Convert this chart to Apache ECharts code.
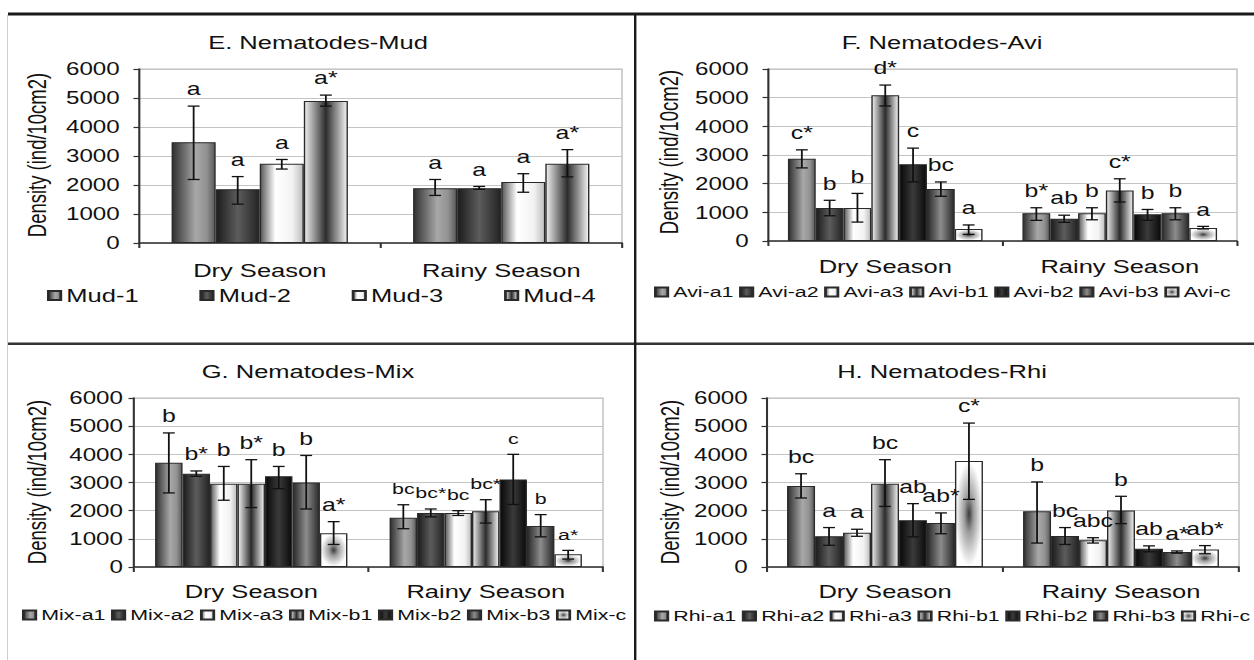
<!DOCTYPE html>
<html><head><meta charset="utf-8">
<script src="https://cdn.jsdelivr.net/npm/echarts@6/dist/echarts.min.js"></script>
<style>
html,body{margin:0;padding:0;background:#fff;overflow:hidden;}
#wrap{width:1254px;height:660px;overflow:hidden;position:relative;background:#fff;}
#chart{position:absolute;left:0;top:0;width:909px;height:660px;transform:scaleX(1.379538);transform-origin:0 0;}
</style></head><body><div id="wrap"><div id="chart"></div></div>
<script>
// ---------------- DATA ----------------
const categories = ['Dry Season', 'Rainy Season'];

const mudNames = ['Mud-1', 'Mud-2', 'Mud-3', 'Mud-4'];
const mudMean = [[3470, 1890], [1850, 1890], [2730, 2100], [4900, 2730]];
const mudLow  = [[2190, 1640], [1340, 1850], [2550, 1750], [4720, 2280]];
const mudHigh = [[4720, 2190], [2290, 1950], [2880, 2390], [5100, 3220]];
const mudLetters = [['a', 'a'], ['a', 'a'], ['a', 'a'], ['a*', 'a*']];

const aviNames = ['Avi-a1', 'Avi-a2', 'Avi-a3', 'Avi-b1', 'Avi-b2', 'Avi-b3', 'Avi-c'];
const aviMean = [[2870, 970], [1150, 780], [1150, 970], [5080, 1760], [2680, 930], [1810, 970], [420, 450]];
const aviLow  = [[2550, 720], [880, 650], [660, 740], [4710, 1360], [2060, 720], [1560, 740], [230, 420]];
const aviHigh = [[3180, 1160], [1420, 900], [1660, 1160], [5440, 2170], [3240, 1100], [2060, 1160], [560, 510]];
const aviLetters = [['c*', 'b*'], ['b', 'ab'], ['b', 'b'], ['d*', 'c*'], ['c', 'b'], ['bc', 'b'], ['a', 'a']];

const mixNames = ['Mix-a1', 'Mix-a2', 'Mix-a3', 'Mix-b1', 'Mix-b2', 'Mix-b3', 'Mix-c'];
const mixMean = [[3700, 1750], [3310, 1920], [2960, 1920], [2960, 1980], [3220, 3110], [3000, 1460], [1200, 450]];
const mixLow  = [[2630, 1360], [3220, 1780], [2370, 1830], [2110, 1560], [2780, 2220], [2060, 1070], [800, 280]];
const mixHigh = [[4760, 2210], [3410, 2060], [3570, 2000], [3810, 2390], [3570, 4000], [3960, 1860], [1610, 590]];
const mixLetters = [['b', 'bc'], ['b*', 'bc*'], ['b', 'bc'], ['b*', 'bc*'], ['b', 'c'], ['b', 'b'], ['a*', 'a*']];

const rhiNames = ['Rhi-a1', 'Rhi-a2', 'Rhi-a3', 'Rhi-b1', 'Rhi-b2', 'Rhi-b3', 'Rhi-c'];
const rhiMean = [[2880, 1980], [1090, 1100], [1220, 950], [2960, 2010], [1660, 650], [1560, 530], [3760, 620]];
const rhiLow  = [[2450, 850], [770, 800], [1090, 850], [2150, 1540], [1070, 540], [1180, 490], [2400, 470]];
const rhiHigh = [[3310, 3020], [1400, 1400], [1340, 1040], [3810, 2510], [2250, 750], [1920, 570], [5110, 760]];
const rhiLetters = [['bc', 'b'], ['a', 'bc'], ['a', 'abc'], ['bc', 'b'], ['ab', 'ab'], ['ab*', 'a*'], ['c*', 'ab*']];

const panelTitles = ['E. Nematodes-Mud', 'F. Nematodes-Avi', 'G. Nematodes-Mix', 'H. Nematodes-Rhi'];
const yAxisName = 'Density (ind/10cm2)';
const yTicks = {min: 0, max: 6000, interval: 1000};

// ---------------- LAYOUT (real pixel coords; x divided by stretch) ----------------
const SX = 1254 / 909;
const FONT = '"Liberation Sans", Arial, Helvetica, sans-serif';
const TXT = '#111';
const layout = [
  {gx0: 139, gx1: 622, gy0: 69, gy1: 243, gap: 0.27, tx: 318, ty: 44, nx: 37.5, ny: 155, lx: 47, ly: 295, lfont: 18.5, lgap: 44, cm: 18, ym: 14, lf: [18, 18]},
  {gx0: 768, gx1: 1237, gy0: 69, gy1: 241, gap: 0.17, tx: 942, ty: 44, nx: 669, ny: 152, lx: 654, ly: 293, lfont: 15.5, lgap: 4, cm: 16, ym: 14, lf: [18, 18]},
  {gx0: 134, gx1: 603, gy0: 398, gy1: 567, gap: 0.18, tx: 308, ty: 373, nx: 37.5, ny: 482, lx: 22, ly: 616, lfont: 15.5, lgap: 4, cm: 15, ym: 8, lf: [18, 15.5]},
  {gx0: 767, gx1: 1239, gy0: 398, gy1: 567, gap: 0.17, tx: 942, ty: 373, nx: 670.6, ny: 482, lx: 654, ly: 617, lfont: 15.5, lgap: 4, cm: 15, ym: 14, lf: [18, 18]}
];

const panels = [
  {names: mudNames, mean: mudMean, lo: mudLow, hi: mudHigh, letters: mudLetters},
  {names: aviNames, mean: aviMean, lo: aviLow, hi: aviHigh, letters: aviLetters},
  {names: mixNames, mean: mixMean, lo: mixLow, hi: mixHigh, letters: mixLetters},
  {names: rhiNames, mean: rhiMean, lo: rhiLow, hi: rhiHigh, letters: rhiLetters}
];

// ---------------- STYLES ----------------
function lin(stops) {
  return new echarts.graphic.LinearGradient(0, 0, 1, 0, stops.map(s => ({offset: s[0], color: s[1]})));
}
const fills = [
  lin([[0, '#303030'], [0.55, '#a8a8a8'], [0.8, '#929292'], [1, '#5a5a5a']]),
  lin([[0, '#1c1c1c'], [0.5, '#5c5c5c'], [1, '#242424']]),
  lin([[0, '#5a5a5a'], [0.35, '#ffffff'], [0.75, '#f2f2f2'], [1, '#bdbdbd']]),
  lin([[0, '#f0f0f0'], [0.5, '#2c2c2c'], [1, '#f4f4f4']]),
  lin([[0, '#080808'], [0.5, '#3a3a3a'], [1, '#0a0a0a']]),
  lin([[0, '#2a2a2a'], [0.5, '#8c8c8c'], [1, '#2a2a2a']]),
  new echarts.graphic.RadialGradient(0.5, 0.5, 0.5, [
    {offset: 0, color: '#3a3a3a'}, {offset: 0.35, color: '#9c9c9c'}, {offset: 1, color: '#ffffff'}])
];
const mudFills = [fills[0], fills[1], fills[2], fills[3]];

// ---------------- BUILD OPTION ----------------
const option = {
  animation: false,
  backgroundColor: '#fff',
  textStyle: {fontFamily: FONT},
  title: [], grid: [], xAxis: [], yAxis: [], legend: [], series: [], graphic: []
};

panels.forEach((P, pi) => {
  const L = layout[pi];
  const n = P.names.length;
  const pf = pi === 0 ? mudFills : fills;
  option.title.push({
    text: panelTitles[pi], left: L.tx / SX, top: L.ty - 11, textAlign: 'center', padding: 0,
    textStyle: {fontSize: 18.5, fontWeight: 'normal', color: TXT, fontFamily: FONT}
  });
  option.grid.push({
    left: L.gx0 / SX, top: L.gy0, width: (L.gx1 - L.gx0) / SX, height: L.gy1 - L.gy0,
    show: true, borderColor: '#bdbdbd', borderWidth: 1, backgroundColor: 'transparent'
  });
  option.xAxis.push({
    type: 'category', gridIndex: pi, data: categories,
    axisLine: {lineStyle: {color: '#333', width: 1.5}},
    axisTick: {show: true, length: 5, lineStyle: {color: '#333', width: 1.5}},
    axisLabel: {fontSize: 18.5, color: TXT, margin: L.cm, fontFamily: FONT},
    splitLine: {show: false}
  });
  option.yAxis.push({
    type: 'value', gridIndex: pi, min: yTicks.min, max: yTicks.max, interval: yTicks.interval,
    axisLine: {show: true, lineStyle: {color: '#333', width: 1.5}},
    axisTick: {show: true, length: 4, lineStyle: {color: '#333', width: 1.2}},
    axisLabel: {fontSize: 17.5, color: TXT, margin: L.ym, fontFamily: FONT, formatter: v => String(v)},
    splitLine: {show: true, lineStyle: {color: '#c4c4c4', width: 1}}
  });
  option.legend.push({
    data: P.names, left: L.lx / SX, top: L.ly - 9, padding: 0, itemGap: L.lgap,
    icon: 'rect', itemWidth: 9, itemHeight: 9, selectedMode: false,
    textStyle: {fontSize: L.lfont, color: TXT, fontFamily: FONT, padding: [0, 0, 0, -1]}
  });
  P.names.forEach((nm, si) => {
    option.series.push({
      type: 'bar', name: nm, xAxisIndex: pi, yAxisIndex: pi,
      data: P.mean[si], barGap: '0%', barCategoryGap: (L.gap * 100) + '%',
      itemStyle: {color: pf[si], borderColor: '#2a2a2a', borderWidth: 1},
      emphasis: {disabled: true}
    });
  });
  const errData = [];
  P.names.forEach((nm, si) => {
    categories.forEach((c, ci) => errData.push([ci, P.hi[si][ci], P.lo[si][ci], si]));
  });
  option.series.push({
    type: 'custom', name: 'err' + pi, xAxisIndex: pi, yAxisIndex: pi, z: 5,
    encode: {x: 0, y: 1}, data: errData, silent: true,
    renderItem: function (params, api) {
      const ci = api.value(0), hi = api.value(1), lo = api.value(2), si = api.value(3);
      const pHi = api.coord([ci, hi]);
      const pLo = api.coord([ci, lo]);
      const catW = api.size([1, 0])[0];
      const groupW = catW * (1 - L.gap);
      const bw = groupW / n;
      const x = pHi[0] - groupW / 2 + (si + 0.5) * bw;
      const cap = 4.3;
      const st = {stroke: '#111', lineWidth: 1.3};
      return {
        type: 'group', children: [
          {type: 'line', shape: {x1: x, y1: pHi[1], x2: x, y2: pLo[1]}, style: st},
          {type: 'line', shape: {x1: x - cap, y1: pHi[1], x2: x + cap, y2: pHi[1]}, style: st},
          {type: 'line', shape: {x1: x - cap, y1: pLo[1], x2: x + cap, y2: pLo[1]}, style: st},
          {type: 'text', x: x, y: pHi[1] - 8, style: {
            text: P.letters[si][ci], fill: TXT, fontSize: L.lf[ci], fontFamily: FONT,
            align: 'center', verticalAlign: 'bottom'}}
        ]
      };
    }
  });
  option.graphic.push({
    type: 'text', x: L.nx / SX, y: L.ny, rotation: Math.PI / 2,
    style: {text: yAxisName, fontSize: 18.5, fontFamily: FONT, fill: TXT, align: 'center', verticalAlign: 'middle'}
  });
});

// panel dividers
option.graphic.push(
  {type: 'rect', shape: {x: 8 / SX, y: 12.5, width: 1254 / SX, height: 3}, style: {fill: '#1a1a1a'}},
  {type: 'rect', shape: {x: 8 / SX, y: 342.5, width: 1254 / SX, height: 2.6}, style: {fill: '#333'}},
  {type: 'rect', shape: {x: 634 / SX, y: 14, width: 2.4 / SX, height: 650}, style: {fill: '#1a1a1a'}},
  {type: 'rect', shape: {x: 7 / SX, y: 15, width: 1 / SX, height: 650}, style: {fill: '#cfcfcf'}}
);

const chart = echarts.init(document.getElementById('chart'), null, {renderer: 'svg', width: 909, height: 660});
chart.setOption(option);
</script>
</body></html>
